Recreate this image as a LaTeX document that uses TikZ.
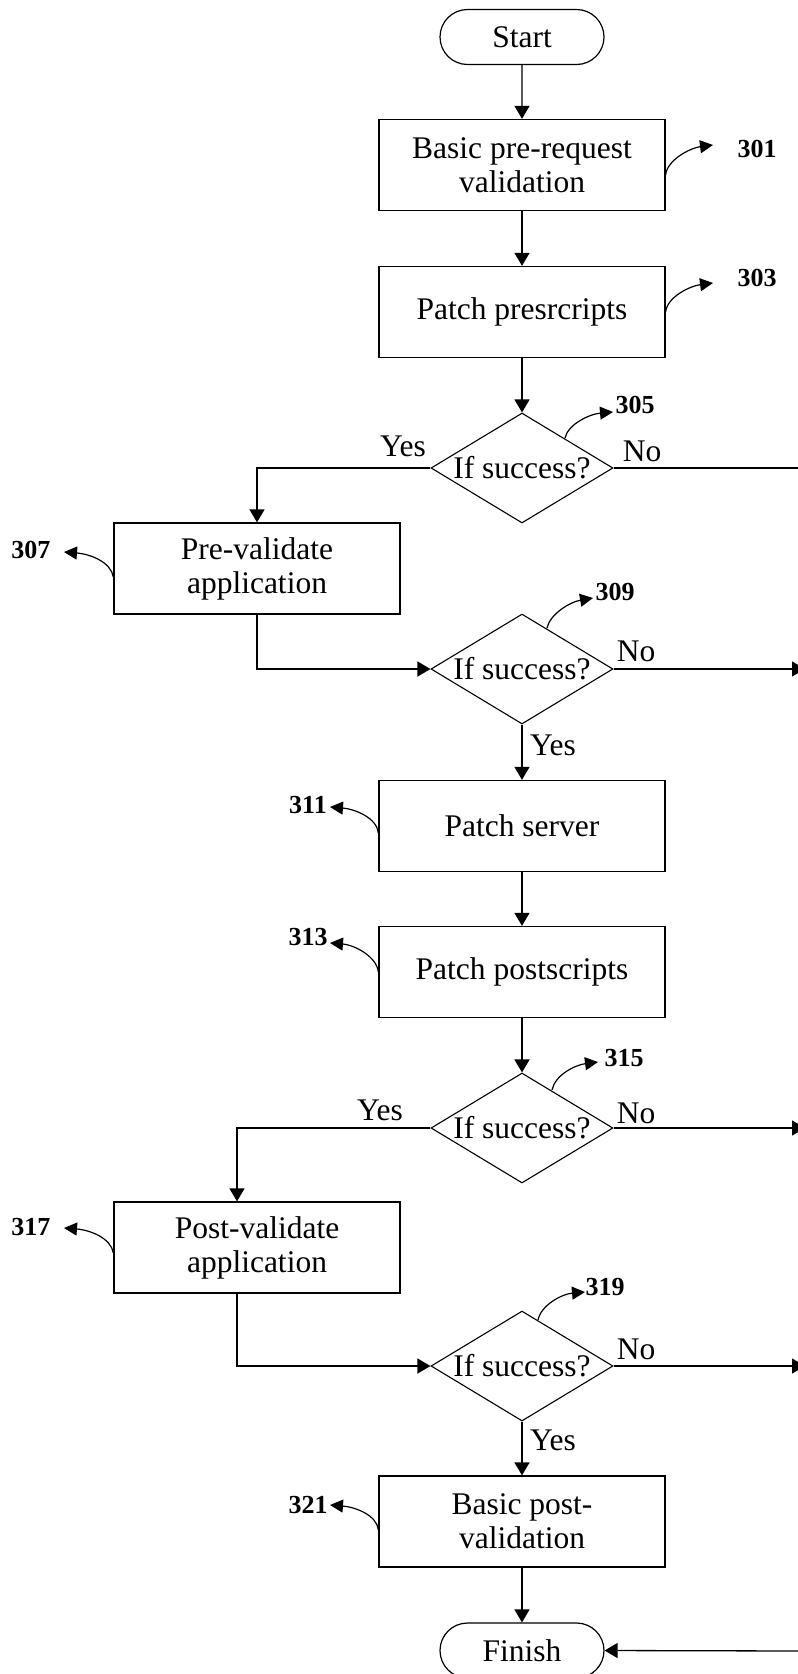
\documentclass[tikz,border=0pt]{standalone}
\usepackage{fontspec}
\setmainfont{Liberation Serif}
\usetikzlibrary{shapes.geometric,shapes.misc,arrows.meta}
\begin{document}
\begin{tikzpicture}[x=1pt,y=-1pt,
  every node/.style={font=\fontsize{31.5}{34}\selectfont},
  box/.style={draw,line width=1.3pt,minimum width=286pt,minimum height=91pt,align=center,inner sep=0pt},
  pill/.style={draw,rounded rectangle,line width=1.2pt,minimum width=164pt,minimum height=55pt,inner sep=0pt},
  dec/.style={draw,diamond,aspect=1.6545,line width=1.1pt,minimum width=182pt,minimum height=110pt,inner sep=0pt},
  flow/.style={line width=1.3pt,-{Triangle[length=13pt,width=15pt]}},
  plain/.style={line width=1.3pt},
  lab/.style={font=\fontsize{26}{28}\selectfont\bfseries,inner sep=0pt},
  lead/.style={line width=1.2pt,-{Triangle[length=13pt,width=13pt]}},
  yn/.style={inner sep=0pt}
]
\clip (0,0) rectangle (798,1674);

% main nodes
\node[pill] (start) at (522,37) {Start};
\node[box] (b301) at (522,165) {Basic pre-request\\validation};
\node[box] (b303) at (522,312) {Patch presrcripts};
\node[dec] (d305) at (522,468) {If success?};
\node[box] (b307) at (257,568.5) {Pre-validate\\application};
\node[dec] (d309) at (522,669) {If success?};
\node[box] (b311) at (522,826) {Patch server};
\node[box] (b313) at (522,972) {Patch postscripts};
\node[dec] (d315) at (522,1128) {If success?};
\node[box] (b317) at (257,1247.5) {Post-validate\\application};
\node[dec] (d319) at (522,1366) {If success?};
\node[box] (b321) at (522,1521.5) {Basic post-\\validation};
\node[pill] (finish) at (522,1650.5) {Finish};

% free ends at the right edge
\coordinate (r305) at (800,468);
\coordinate (r309) at (805,669);
\coordinate (r315) at (805,1128);
\coordinate (r319) at (805,1366);
\coordinate (rfin) at (805,1651);

% yes / no labels
\node[yn] (y305) at (403,446) {Yes};
\node[yn] (n305) at (642,451) {No};
\node[yn] (n309) at (636,651) {No};
\node[yn] (y309) at (553,745) {Yes};
\node[yn] (y315) at (380,1110) {Yes};
\node[yn] (n315) at (636,1113) {No};
\node[yn] (n319) at (636,1349) {No};
\node[yn] (y319) at (553,1440) {Yes};

% flow connectors
\draw[flow] (start) -- (b301);
\draw[flow] (b301) -- (b303);
\draw[flow] (b303) -- (d305);
\draw[flow] (d305.west) -| (b307.north);
\draw[plain] (d305.east) -- (r305);
\draw[flow] (b307.south) |- (d309.west);
\draw[flow] (d309.east) -- (r309);
\draw[flow] (d309.south) -- (b311.north);
\draw[flow] (b311) -- (b313);
\draw[flow] (b313) -- (d315);
\draw[flow] (d315.west) -| ([xshift=-20pt]b317.north);
\draw[flow] (d315.east) -- (r315);
\draw[flow] ([xshift=-20pt]b317.south) |- (d319.west);
\draw[flow] (d319.east) -- (r319);
\draw[flow] (d319.south) -- (b321.north);
\draw[flow] (b321) -- (finish);
\draw[flow] (rfin) -- (finish.east);

% reference numerals
\node[lab] (l301) at (757,149) {301};
\node[lab] (l303) at (757,278) {303};
\node[lab] (l305) at (635,405) {305};
\node[lab] (l307) at (31,550) {307};
\node[lab] (l309) at (615,592) {309};
\node[lab] (l311) at (308,805) {311};
\node[lab] (l313) at (308,937) {313};
\node[lab] (l315) at (624,1058) {315};
\node[lab] (l317) at (31,1227) {317};
\node[lab] (l319) at (605,1287) {319};
\node[lab] (l321) at (308,1505) {321};

\coordinate (t301) at (713,145);
\coordinate (t303) at (713,283);
\coordinate (t305) at (613,412);
\coordinate (t307) at (64,552);
\coordinate (t309) at (593,598);
\coordinate (t311) at (330,807);
\coordinate (t313) at (330,943);
\coordinate (t315) at (598,1062);
\coordinate (t317) at (64,1228);
\coordinate (t319) at (585,1292);
\coordinate (t321) at (330,1505);

\draw[lead] (b301.east |- 0,175) .. controls (667,160) and (690,148) .. (t301);
\draw[lead] (b303.east |- 0,312) .. controls (667,297) and (690,286) .. (t303);
\draw[lead] (565,438) .. controls (568,424) and (590,414) .. (t305);
\draw[lead] (b307.west |- 0,577) .. controls (111,562) and (90,554) .. (t307);
\draw[lead] (547,628) .. controls (550,614) and (570,602) .. (t309);
\draw[lead] (b311.west |- 0,833) .. controls (377,818) and (355,809) .. (t311);
\draw[lead] (b313.west |- 0,972) .. controls (377,957) and (355,945) .. (t313);
\draw[lead] (552,1090) .. controls (555,1075) and (575,1065) .. (t315);
\draw[lead] (b317.west |- 0,1253) .. controls (111,1238) and (90,1230) .. (t317);
\draw[lead] (538,1320) .. controls (541,1305) and (562,1294) .. (t319);
\draw[lead] (b321.west |- 0,1530) .. controls (377,1515) and (355,1507) .. (t321);
\end{tikzpicture}
\end{document}
